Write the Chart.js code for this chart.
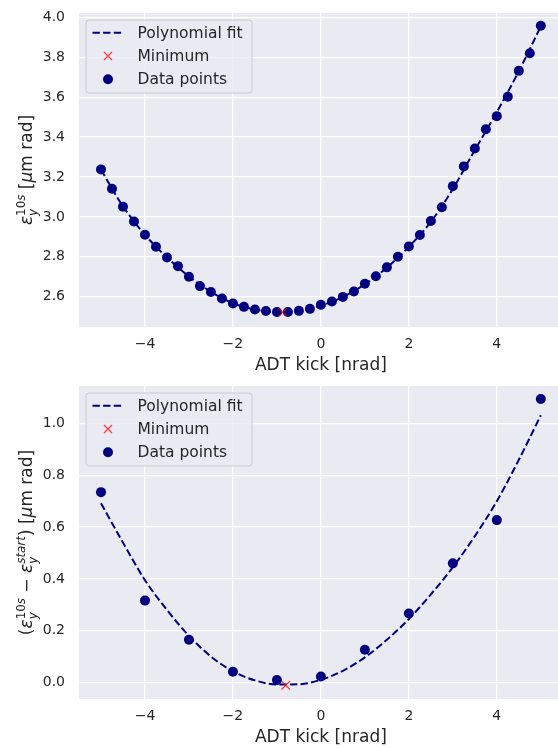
<!DOCTYPE html>
<html>
<head>
<meta charset="utf-8">
<script src="https://cdn.jsdelivr.net/npm/chart.js@4.4.0/dist/chart.umd.min.js"></script>
<style>
  body { margin: 0; background: #fff; overflow: hidden; width: 558px; height: 748px; position: relative; }
  canvas { position: absolute; left: 0; }
  #top { top: 0; }
  #bot { top: 372px; }
</style>
</head>
<body>
<canvas id="top" width="570" height="376"></canvas>
<canvas id="bot" width="570" height="376"></canvas>
<script>
// top panel: emittance after 10 s vs ADT kick
const kickTop = [-5, -4.75, -4.5, -4.25, -4, -3.75, -3.5, -3.25, -3, -2.75, -2.5, -2.25, -2, -1.75, -1.5, -1.25, -1,
  -0.75, -0.5, -0.25, 0, 0.25, 0.5, 0.75, 1, 1.25, 1.5, 1.75, 2, 2.25, 2.5, 2.75, 3, 3.25, 3.5, 3.75, 4, 4.25, 4.5, 4.75, 5];
const embTop = [3.238, 3.141, 3.051, 2.977, 2.910, 2.850, 2.797, 2.753, 2.700, 2.653, 2.623, 2.591, 2.566, 2.549, 2.536, 2.528, 2.523,
  2.523, 2.529, 2.539, 2.559, 2.576, 2.599, 2.626, 2.665, 2.702, 2.747, 2.800, 2.852, 2.909, 2.979, 3.048, 3.154, 3.253, 3.343, 3.439, 3.505, 3.602, 3.732, 3.820, 3.958];
const fitX = [-5, -4.5, -4, -3.5, -3, -2.5, -2, -1.5, -1, -0.5, 0, 0.5, 1, 1.5, 2, 2.5, 3, 3.5, 4, 4.5, 5];
const fitTop = [3.236, 3.053, 2.910, 2.797, 2.701, 2.625, 2.567, 2.536, 2.523, 2.528, 2.555, 2.598, 2.662, 2.746, 2.850, 2.975, 3.140, 3.335, 3.525, 3.730, 3.955];
const minTop = [-0.87, 2.521];

// bottom panel: emittance growth
const kickBot = [-5, -4, -3, -2, -1, 0, 1, 2, 3, 4, 5];
const growBot = [0.735, 0.316, 0.165, 0.041, 0.009, 0.023, 0.126, 0.266, 0.460, 0.627, 1.095];
const fitBot = [0.692, 0.540, 0.395, 0.280, 0.180, 0.100, 0.043, 0.008, -0.008, -0.007, 0.010, 0.045, 0.097, 0.165, 0.245, 0.340, 0.445, 0.565, 0.700, 0.860, 1.032];
const minBot = [-0.80, -0.011];

const legendLabels = ['Polynomial fit', 'Minimum', 'Data points'];
const xLabel = 'ADT kick [nrad]';
// y labels as little mathtext pieces
const yLabelTop = [['ε', 'it'], { sub: 'y', sup: [['10', 'rm'], ['s', 'it']] }, [' [', 'rm'], ['μ', 'it'], ['m rad]', 'rm']];
const yLabelBot = [['(', 'rm'], ['ε', 'it'], { sub: 'y', sup: [['10', 'rm'], ['s', 'it']] }, [' − ', 'rm'], ['ε', 'it'],
  { sub: 'y', sup: [['start', 'it']] }, [') [', 'rm'], ['μ', 'it'], ['m rad]', 'rm']];

const fam = '"DejaVu Sans"';
const txt = '#262626';
const navy = '#000080';

function pts(xs, ys) { return xs.map((x, i) => ({ x: x, y: ys[i] })); }
function fmt(v, d) {
  let s = Math.abs(v).toFixed(d);
  return (v < 0 && parseFloat(s) != 0) ? '\u2212' + s : s;
}

function runMath(ctx, parts, size, draw) {
  let x = 0;
  const put = (t, st, sz, dy) => {
    ctx.font = (st == 'it' ? 'italic ' : '') + sz + 'px ' + fam;
    if (draw) ctx.fillText(t, x, dy);
    return ctx.measureText(t).width;
  };
  for (const p of parts) {
    if (Array.isArray(p)) {
      x += put(p[0], p[1], size, 0);
    } else {
      const s = size * 0.7;
      const x0 = x;
      const w1 = put(p.sub, 'it', s, size * 0.3);
      let w2 = 0;
      for (const q of p.sup) { const w = put(q[0], q[1], s, -size * 0.42); x += w; w2 += w; }
      x = x0 + Math.max(w1, w2);
    }
  }
  return x;
}

const panelPlugin = {
  id: 'panel',
  beforeDraw(chart) {
    const a = chart.chartArea, ctx = chart.ctx;
    ctx.save();
    ctx.fillStyle = '#EAEAF2';
    ctx.fillRect(a.left, a.top, a.right - a.left, a.bottom - a.top);
    ctx.restore();
  },
  afterDraw(chart) {
    const a = chart.chartArea, ctx = chart.ctx;
    // y label
    const parts = chart.options.plugins.panel.ylabel;
    ctx.save();
    ctx.translate(32, (a.top + a.bottom) / 2);
    ctx.rotate(-Math.PI / 2);
    const w = runMath(ctx, parts, 17, false);
    ctx.translate(-w / 2, 0);
    ctx.fillStyle = txt;
    ctx.textBaseline = 'alphabetic';
    runMath(ctx, parts, 17, true);
    ctx.restore();

    // legend box
    const bx = a.left + 7, by = a.top + 7, bw = 166, bh = 73;
    ctx.save();
    ctx.beginPath();
    ctx.roundRect(bx, by, bw, bh, 3);
    ctx.fillStyle = 'rgba(234,234,242,0.8)';
    ctx.fill();
    ctx.strokeStyle = '#cccccc';
    ctx.lineWidth = 1;
    ctx.stroke();
    const ds = chart.data.datasets;
    for (let i = 0; i < ds.length; i++) {
      const y = by + 12.7 + i * 23.3;
      if (i == 0) {
        ctx.beginPath();
        ctx.setLineDash(ds[0].borderDash);
        ctx.strokeStyle = ds[0].borderColor;
        ctx.lineWidth = ds[0].borderWidth;
        ctx.moveTo(bx + 6.5, y); ctx.lineTo(bx + 38, y);
        ctx.stroke();
        ctx.setLineDash([]);
      } else if (i == 1) {
        ctx.beginPath();
        ctx.strokeStyle = ds[1].borderColor;
        ctx.lineWidth = ds[1].borderWidth;
        ctx.moveTo(bx + 18, y - 4); ctx.lineTo(bx + 26, y + 4);
        ctx.moveTo(bx + 18, y + 4); ctx.lineTo(bx + 26, y - 4);
        ctx.stroke();
      } else {
        ctx.beginPath();
        ctx.fillStyle = ds[2].backgroundColor;
        ctx.arc(bx + 22, y, 5, 0, Math.PI * 2);
        ctx.fill();
      }
      ctx.fillStyle = txt;
      ctx.font = '15.5px ' + fam;
      ctx.textBaseline = 'middle';
      ctx.fillText(ds[i].label, bx + 51.5, y + 1);
    }
    ctx.restore();
  }
};

function makeChart(id, dataX, dataY, fitY, minPt, ymin, ymax, ylabel, topPad) {
  return new Chart(document.getElementById(id), {
    type: 'scatter',
    data: {
      datasets: [{
        label: legendLabels[0],
        data: pts(fitX, fitY),
        showLine: true,
        borderColor: navy,
        borderWidth: 2,
        borderDash: [7.4, 3.2],
        pointRadius: 0,
        cubicInterpolationMode: 'monotone',
        order: 1
      }, {
        label: legendLabels[1],
        data: [{ x: minPt[0], y: minPt[1] }],
        pointStyle: 'crossRot',
        pointRadius: 6,
        borderColor: 'rgba(255,0,0,0.75)',
        borderWidth: 1.2,
        order: 0
      }, {
        label: legendLabels[2],
        data: pts(dataX, dataY),
        pointRadius: 5,
        backgroundColor: navy,
        borderColor: navy,
        borderWidth: 0,
        order: 2
      }]
    },
    options: {
      responsive: false,
      animation: false,
      layout: { padding: { left: 0, right: 4, top: topPad, bottom: 0 } },
      plugins: {
        legend: { display: false },
        tooltip: { enabled: false },
        panel: { ylabel: ylabel }
      },
      scales: {
        x: {
          type: 'linear', min: -5.5, max: 5.5,
          ticks: { stepSize: 2, includeBounds: false, color: txt, font: { family: fam, size: 14 }, padding: 9,
            callback: v => fmt(v, 0) },
          grid: { color: '#ffffff', lineWidth: 1.3, drawTicks: false },
          border: { display: false },
          title: { display: true, text: xLabel, color: txt, font: { family: fam, size: 17 }, padding: { top: 0, bottom: 0 } },
          afterFit: s => { s.height = 49; s.paddingLeft = 0; s.paddingRight = 0; }
        },
        y: {
          type: 'linear', min: ymin, max: ymax,
          ticks: { stepSize: 0.2, includeBounds: false, color: txt, font: { family: fam, size: 14 }, padding: 14,
            callback: v => fmt(v, 1) },
          grid: { color: '#ffffff', lineWidth: 1.3, drawTicks: false },
          border: { display: false },
          afterFit: s => { s.width = 79; s.paddingTop = 0; s.paddingBottom = 0; }
        }
      }
    },
    plugins: [panelPlugin]
  });
}

makeChart('top', kickTop, embTop, fitTop, minTop, 2.448, 4.022, yLabelTop, 13);
makeChart('bot', kickBot, growBot, fitBot, minBot, -0.064, 1.145, yLabelBot, 14);
</script>
</body>
</html>
